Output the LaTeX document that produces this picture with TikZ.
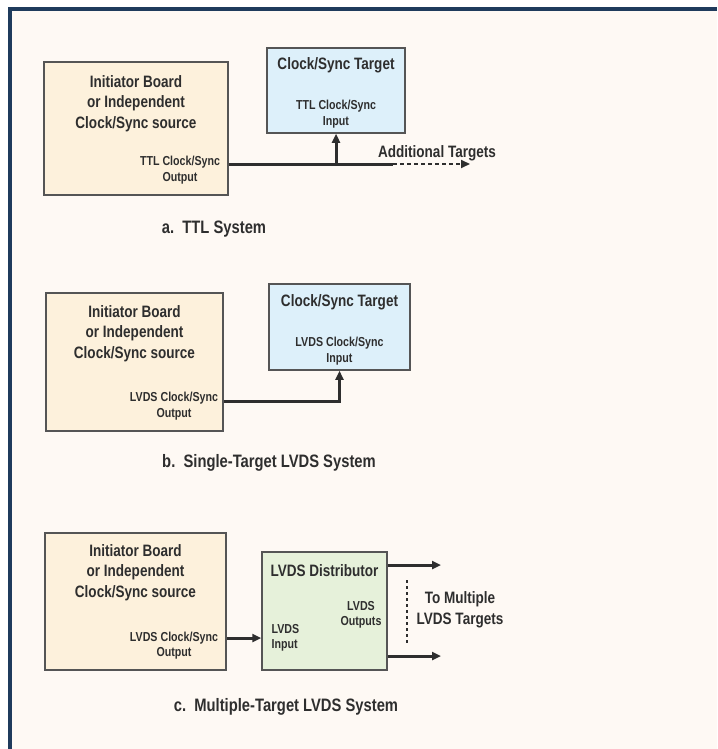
\documentclass[tikz,border=0pt]{standalone}
\usepackage{fontspec}
\setmainfont{Liberation Sans}[FakeStretch=0.82]
\usepackage{tikz}
\usepackage{xcolor}
\usetikzlibrary{arrows.meta}

\definecolor{frameblue}{HTML}{1F3B5C}
\definecolor{paper}{HTML}{FEF9F4}
\definecolor{srcfill}{HTML}{FDF1DC}
\definecolor{tgtfill}{HTML}{DDF0FA}
\definecolor{distfill}{HTML}{E6F1DA}
\definecolor{edge}{HTML}{555555}
\definecolor{ink}{HTML}{2E2E2E}

\tikzset{
  box/.style={draw=edge, line width=1.5pt, inner sep=0pt},
  title/.style={text=ink, font=\fontsize{16.5}{20.5}\selectfont\bfseries, align=center},
  small/.style={text=ink, font=\fontsize{13}{15.5}\selectfont\bfseries, align=center},
  caption/.style={text=ink, font=\fontsize{18}{22}\selectfont\bfseries},
  wire/.style={draw=ink, line width=3pt},
  tip/.style={-{Triangle[length=9pt,width=8pt]}},
}

\begin{document}
\begin{tikzpicture}[x=1pt,y=-1pt]
    % Page and frame
    \useasboundingbox (0,0) rectangle (717,749);
    \fill[white] (0,0) rectangle (717,749);
    \fill[paper] (10,9) rectangle (717,749);
    \draw[frameblue, line width=4.5pt] (10,749) -- (10,9) -- (717,9);

    % a. TTL system
    \node[box, fill=srcfill, minimum width=184pt, minimum height=133pt] (srcA) at (136,128.5) {};
    \node[title] (srcAname) at (136,103.5) {Initiator Board\\or Independent\\Clock/Sync source};
    \node[small] (srcAout) at (180,170) {TTL Clock/Sync\\Output};
    \node[box, fill=tgtfill, minimum width=138pt, minimum height=85pt] (tgtA) at (336,90.5) {};
    \node[title] (tgtAname) at (336,65) {Clock/Sync Target};
    \node[small] (tgtAin) at (336,114) {TTL Clock/Sync\\Input};
    \node[title] (more) at (437,153) {Additional Targets};
    \node[caption] (capA) at (214,229) {a.\ \ TTL System};

    \coordinate (outA) at (srcA.east |- 0,164);
    \coordinate (tapA) at (tgtA.south |- outA);
    \coordinate (dashA) at (393,164);
    \coordinate (endA) at (470,164);
    \draw[wire] (outA) -- (dashA);
    \draw[wire, tip] (tapA) -- (tgtA.south);
    \draw[draw=ink, line width=2pt, dash pattern=on 4pt off 3pt, tip] (dashA) -- (endA);

    % b. Single-target LVDS system
    \node[box, fill=srcfill, minimum width=177pt, minimum height=138pt] (srcB) at (134.5,362) {};
    \node[title] (srcBname) at (134.5,333.5) {Initiator Board\\or Independent\\Clock/Sync source};
    \node[small] (srcBout) at (174,406) {LVDS Clock/Sync\\Output};
    \node[box, fill=tgtfill, minimum width=141pt, minimum height=86pt] (tgtB) at (339.5,327) {};
    \node[title] (tgtBname) at (339.5,302) {Clock/Sync Target};
    \node[small] (tgtBin) at (339.5,351) {LVDS Clock/Sync\\Input};
    \node[caption] (capB) at (269,463) {b.\ \ Single-Target LVDS System};

    \coordinate (outB) at (srcB.east |- 0,401);
    \draw[wire, tip] (outB) -| (tgtB.south);

    % c. Multiple-target LVDS system
    \node[box, fill=srcfill, minimum width=181pt, minimum height=137pt] (srcC) at (135.5,601.5) {};
    \node[title] (srcCname) at (135.5,572.5) {Initiator Board\\or Independent\\Clock/Sync source};
    \node[small] (srcCout) at (174,645.5) {LVDS Clock/Sync\\Output};
    \node[box, fill=distfill, minimum width=125pt, minimum height=118pt] (dist) at (324.5,611) {};
    \node[title] (distname) at (324.5,571) {LVDS Distributor};
    \node[small, align=left, anchor=west] (distin) at (268,638) {LVDS\\Input};
    \node[small] (distout) at (361,615) {LVDS\\Outputs};
    \node[title] (manyC) at (460,610) {To Multiple\\LVDS Targets};
    \node[caption] (capC) at (286,707) {c.\ \ Multiple-Target LVDS System};

    \coordinate (outC) at (srcC.east |- 0,638);
    \coordinate (topC) at (441,565);
    \coordinate (botC) at (441,656);
    \draw[wire, tip] (outC) -- (dist.west |- outC);
    \draw[wire, tip] (dist.east |- topC) -- (topC);
    \draw[wire, tip] (dist.east |- botC) -- (botC);
    \draw[draw=ink, line width=1.5pt, dash pattern=on 3pt off 3pt] (407,580) -- (407,644);
\end{tikzpicture}
\end{document}
